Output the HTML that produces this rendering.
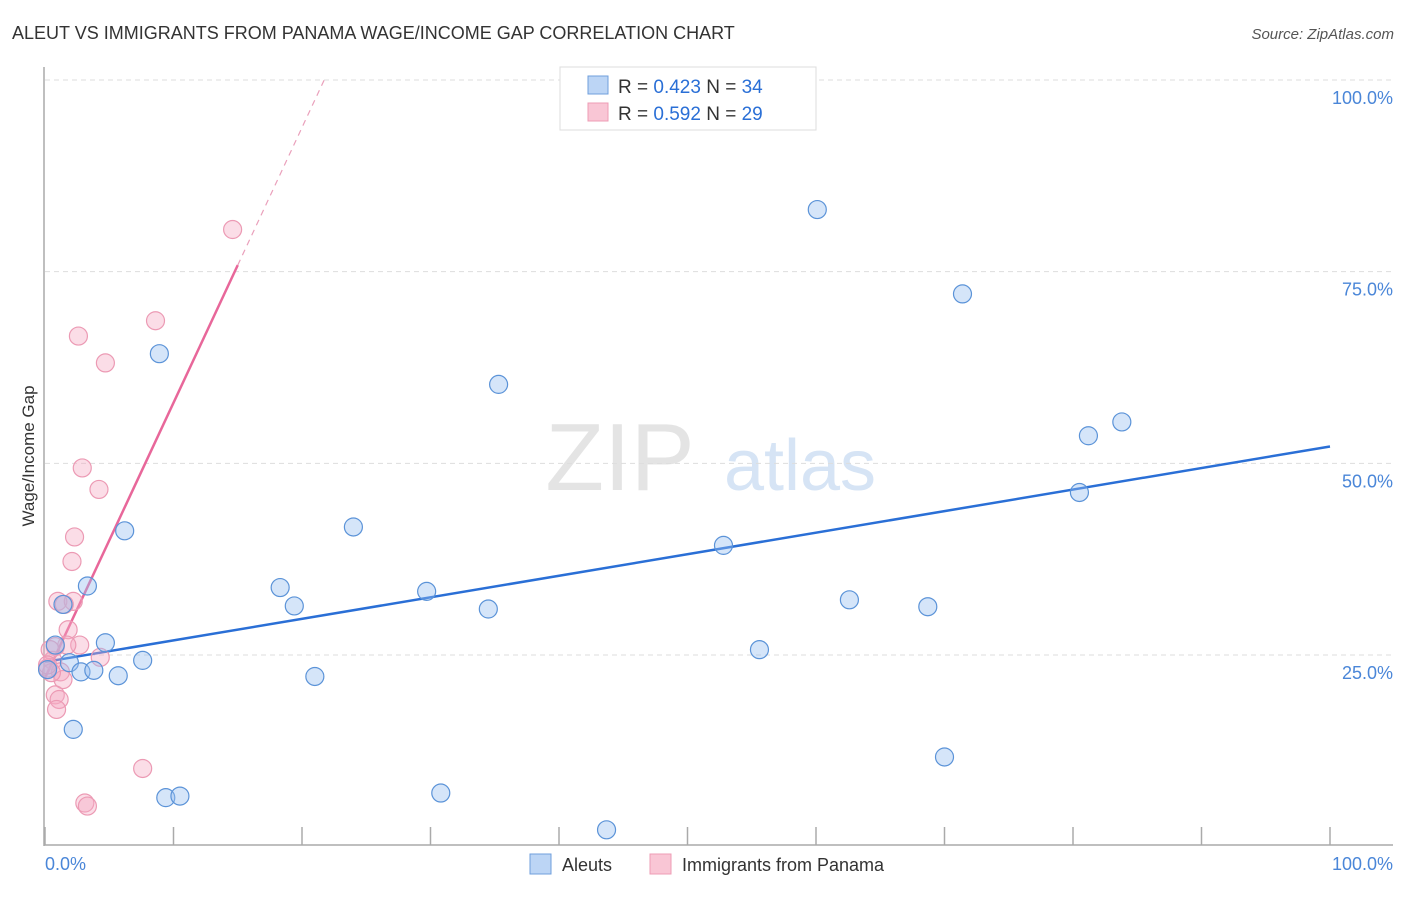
<!DOCTYPE html>
<html><head><meta charset="utf-8"><style>
body{margin:0;background:#fff;font-family:"Liberation Sans",sans-serif;}
svg text{font-family:"Liberation Sans",sans-serif;}
</style></head><body>
<svg width="1406" height="892" xmlns="http://www.w3.org/2000/svg">
<text x="12" y="39" font-size="18" fill="#333">ALEUT VS IMMIGRANTS FROM PANAMA WAGE/INCOME GAP CORRELATION CHART</text>
<text x="1394" y="39" font-size="15" fill="#555" font-style="italic" text-anchor="end">Source: ZipAtlas.com</text>
<text x="620" y="490" font-size="96" fill="#e4e4e4" font-family="Liberation Serif" text-anchor="middle">ZIP</text>
<text x="800" y="490" font-size="72" fill="#d6e4f5" text-anchor="middle">atlas</text>
<g id="grid"></g>
<g id="axes"></g>
<g id="lines"></g>
<g id="pts"></g>
<text transform="translate(34,456) rotate(-90)" font-size="17" fill="#333" text-anchor="middle">Wage/Income Gap</text>
<text x="45" y="870" font-size="18" fill="#4a86d8">0.0%</text>
<text x="1393" y="870" font-size="18" fill="#4a86d8" text-anchor="end">100.0%</text>
<g>
<rect x="560" y="67" width="256" height="63" fill="#fff" stroke="#ddd"/>
<rect x="588" y="76" width="20" height="18" fill="#bcd5f5" stroke="#6f9fdc"/>
<rect x="588" y="103" width="20" height="18" fill="#f9c6d5" stroke="#ee9cb5"/>
<text x="618" y="93" font-size="19" fill="#333">R = <tspan fill="#2a6fd6">0.423</tspan>   N = <tspan fill="#2a6fd6">34</tspan></text>
<text x="618" y="120" font-size="19" fill="#333">R = <tspan fill="#2a6fd6">0.592</tspan>   N = <tspan fill="#2a6fd6">29</tspan></text>
</g>
<g>
<rect x="530" y="854" width="21" height="20" fill="#bcd5f5" stroke="#6f9fdc"/>
<text x="562" y="871" font-size="18" fill="#333">Aleuts</text>
<rect x="650" y="854" width="21" height="20" fill="#f9c6d5" stroke="#ee9cb5"/>
<text x="682" y="871" font-size="18" fill="#333">Immigrants from Panama</text>
</g>
</svg>
<script>
const yTicks=[25,50,75,100];
const yTickLabels=["25.0%","50.0%","75.0%","100.0%"];
const xTicks=[0,10,20,30,40,50,60,70,80,90,100];
const aleutX=[60.1,71.4,8.9,35.3,81.2,83.8,80.5,6.2,24.0,52.8,3.3,18.3,19.4,29.7,34.5,62.6,68.7,55.6,1.4,4.7,0.8,7.6,1.9,2.8,3.8,5.7,21.0,2.2,70.0,9.4,10.5,30.8,43.7,0.2];
const aleutY=[83.1,72.1,64.3,60.3,53.6,55.4,46.2,41.2,41.7,39.3,34.0,33.8,31.4,33.3,31.0,32.2,31.3,25.7,31.6,26.6,26.3,24.3,24.0,22.8,23.0,22.3,22.2,15.3,11.7,6.4,6.6,7.0,2.2,23.1];
const panamaX=[14.6,8.6,2.6,4.7,2.9,4.2,2.3,2.1,1.0,2.2,1.5,1.8,2.7,1.7,0.8,4.3,0.6,0.2,1.2,1.4,0.8,1.1,0.9,7.6,3.1,3.3,0.4,0.5,0.2];
const panamaY=[80.5,68.6,66.6,63.1,49.4,46.6,40.4,37.2,32.0,32.0,31.6,28.3,26.3,26.3,26.1,24.7,24.3,23.3,22.8,21.8,19.8,19.2,17.9,10.2,5.7,5.3,25.7,22.7,23.7];
const aleutTrend=[24.1,52.2];   // y at x=0, x=100
const panamaTrend=[22.0,3.59];  // intercept, slope
const panamaSolidEnd=15.0;

const NS="http://www.w3.org/2000/svg";
const X=v=>45+v*12.85;
const Y=v=>846.7-v*7.667;
function mk(tag,attrs,parent){const e=document.createElementNS(NS,tag);for(const k in attrs)e.setAttribute(k,attrs[k]);parent.appendChild(e);return e;}
const grid=document.getElementById('grid'),axes=document.getElementById('axes'),lines=document.getElementById('lines'),pts=document.getElementById('pts');
yTicks.forEach((t,i)=>{
  const l=mk('line',{x1:45,x2:1393,y1:Y(t),y2:Y(t),stroke:'#ddd','stroke-dasharray':'5,4'},grid);
  
  
  const tx=mk('text',{x:1393,y:Y(t)+24,'font-size':18,fill:'#4a86d8','text-anchor':'end'},grid);
  tx.textContent=yTickLabels[i];
  
  
});
const ya=mk('line',{x1:44,x2:44,y1:67,y2:846,stroke:'#aaa','stroke-width':1.5},axes);


const xa=mk('line',{x1:44,x2:1393,y1:845,y2:845,stroke:'#aaa','stroke-width':1.5},axes);


xTicks.forEach(t=>{
  const l=mk('line',{x1:X(t),x2:X(t),y1:827,y2:845,stroke:'#aaa','stroke-width':1.5},axes);
  
  
});
function dots(xs,ys,fill,stroke,name){
  xs.forEach((x,i)=>{
    const c=mk('circle',{cx:X(x),cy:Y(ys[i]),r:9,fill:fill,stroke:stroke,'stroke-width':1.2},pts);
    
    
  });
}
dots(panamaX,panamaY,'rgba(246,170,196,0.4)','#ec9ab4','panama-point');
dots(aleutX,aleutY,'rgba(150,190,240,0.4)','#5b93d8','aleut-point');
const bl=mk('line',{x1:X(0),y1:Y(aleutTrend[0]),x2:X(100),y2:Y(aleutTrend[1]),stroke:'#2a6fd6','stroke-width':2.5},lines);


const pend=(100-panamaTrend[0])/panamaTrend[1];
const pl=mk('line',{x1:X(0),y1:Y(panamaTrend[0]),x2:X(panamaSolidEnd),y2:Y(panamaTrend[0]+panamaTrend[1]*panamaSolidEnd),stroke:'#e8679a','stroke-width':2.5},lines);


const pd=mk('line',{x1:X(panamaSolidEnd),y1:Y(panamaTrend[0]+panamaTrend[1]*panamaSolidEnd),x2:X(pend),y2:Y(100),stroke:'#eaa0bb','stroke-width':1.2,'stroke-dasharray':'6,5'},lines);


</script>
</body></html>
